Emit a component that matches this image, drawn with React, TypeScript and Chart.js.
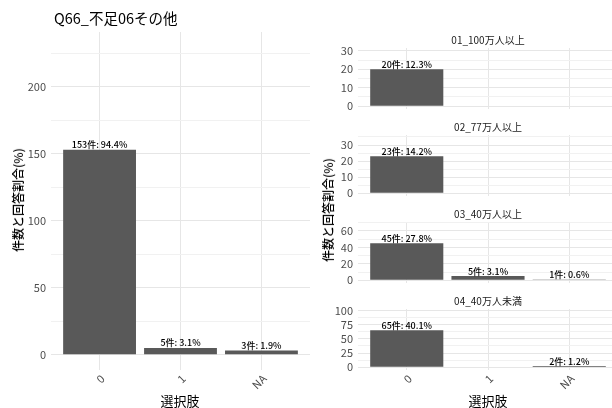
import React, { useEffect, useRef } from "react";
import { Chart, registerables } from "chart.js";

Chart.register(...registerables);

// ---- data ----
const categories = ["0", "1", "NA"];

const totalCounts: (number | null)[] = [153, 5, 3];
const totalPct: (number | null)[] = [94.4, 3.1, 1.9];
const totalTicks = [0, 50, 100, 150, 200];

const groupNames = ["01_100万人以上", "02_77万人以上", "03_40万人以上", "04_40万人未満"];

const group1Counts: (number | null)[] = [20, null, null];
const group1Pct: (number | null)[] = [12.3, null, null];
const group1Ticks = [0, 10, 20, 30];

const group2Counts: (number | null)[] = [23, null, null];
const group2Pct: (number | null)[] = [14.2, null, null];
const group2Ticks = [0, 10, 20, 30];

const group3Counts: (number | null)[] = [45, 5, 1];
const group3Pct: (number | null)[] = [27.8, 3.1, 0.6];
const group3Ticks = [0, 20, 40, 60];

const group4Counts: (number | null)[] = [65, null, 2];
const group4Pct: (number | null)[] = [40.1, null, 1.2];
const group4Ticks = [0, 25, 50, 75, 100];

const chartTitle = "Q66_不足06その他";
const xTitle = "選択肢";
const yTitle = "件数と回答割合(%)";

// ---- styling ----
const FONT = '"Noto Sans CJK JP", "Noto Sans", sans-serif';
const BAR_COLOR = "#595959";
const GRID_MAJOR = "#e6e6e6";
const GRID_MINOR = "#f1f1f1";
const TICK_COLOR = "#4d4d4d";

Chart.defaults.font.family = FONT;

// Count / percent labels sitting on top of each bar
const barLabels = {
  id: "barLabels",
  afterDatasetsDraw(chart: any, _args: any, opts: any) {
    const { ctx } = chart;
    const meta = chart.getDatasetMeta(0);
    ctx.save();
    ctx.font = `500 9px ${FONT}`;
    ctx.fillStyle = "#000";
    ctx.textAlign = "center";
    ctx.textBaseline = "alphabetic";
    meta.data.forEach((bar: any, i: number) => {
      const text = opts.texts[i];
      if (text) ctx.fillText(text, bar.x, bar.y - 1.5);
    });
    ctx.restore();
  },
};

interface PanelSpec {
  counts: (number | null)[];
  pct: (number | null)[];
  ticks: number[];
  left: number;
  top: number;
  width: number;
  height: number;
  padTop: number;
  padRight: number;
  yAxisWidth: number;
  xAxisHeight: number;
  showX: boolean;
}

function buildConfig(p: PanelSpec): any {
  const points: { x: number; y: number }[] = [];
  const texts: string[] = [];
  categories.forEach((_, i) => {
    const c = p.counts[i];
    if (c == null) return;
    points.push({ x: i, y: c });
    texts.push(`${c}件: ${p.pct[i]}%`);
  });

  // y limit is 1.5x the tallest bar, with a 5% expansion on both ends
  const limit = Math.max(...(p.counts.filter((v) => v != null) as number[])) * 1.5;
  const yMin = -0.05 * limit;
  const yMax = limit * 1.05;

  const step = p.ticks[1] - p.ticks[0];
  const majors = new Set(p.ticks);
  const gridValues: number[] = [];
  p.ticks.forEach((t) => {
    gridValues.push(t);
    gridValues.push(t + step / 2);
  });
  const yGrid = gridValues.filter((v) => v >= yMin && v <= yMax);

  return {
    type: "bar",
    data: {
      datasets: [
        {
          data: points,
          backgroundColor: BAR_COLOR,
          borderWidth: 0,
          barPercentage: 0.9,
          categoryPercentage: 1,
        },
      ],
    },
    options: {
      responsive: false,
      maintainAspectRatio: false,
      animation: false,
      events: [],
      layout: { padding: { top: p.padTop, right: p.padRight, bottom: 0, left: 0 } },
      plugins: {
        legend: { display: false },
        tooltip: { enabled: false },
        title: { display: false },
        barLabels: { texts },
      },
      scales: {
        x: {
          type: "linear",
          min: -0.6,
          max: categories.length - 0.4,
          offset: false,
          afterBuildTicks: (s: any) => {
            s.ticks = categories.map((_, i) => ({ value: i }));
          },
          afterFit: (s: any) => {
            s.height = p.xAxisHeight;
          },
          ticks: {
            display: p.showX,
            autoSkip: false,
            minRotation: 45,
            maxRotation: 45,
            padding: 2,
            labelOffset: 3,
            color: TICK_COLOR,
            font: { size: 11 },
            callback: (v: number) => categories[v] ?? "",
          },
          grid: { color: GRID_MAJOR, drawTicks: false, offset: false },
          border: { display: false },
        },
        y: {
          type: "linear",
          min: yMin,
          max: yMax,
          bounds: "data",
          afterBuildTicks: (s: any) => {
            s.ticks = yGrid.map((v) => ({ value: v }));
          },
          afterFit: (s: any) => {
            s.width = p.yAxisWidth;
          },
          ticks: {
            autoSkip: false,
            padding: 5,
            color: TICK_COLOR,
            font: { size: 11 },
            callback: (v: number) => (majors.has(v) ? String(v) : ""),
          },
          grid: {
            color: (ctx: any) => (ctx.tick && majors.has(ctx.tick.value) ? GRID_MAJOR : GRID_MINOR),
            drawTicks: false,
          },
          border: { display: false },
        },
      },
    },
    plugins: [barLabels],
  };
}

function BarPanel({ spec }: { spec: PanelSpec }) {
  const ref = useRef<HTMLCanvasElement>(null);
  useEffect(() => {
    const chart = new Chart(ref.current as HTMLCanvasElement, buildConfig(spec));
    return () => chart.destroy();
  }, []);
  return (
    <canvas
      ref={ref}
      width={spec.width}
      height={spec.height}
      style={{ position: "absolute", left: spec.left, top: spec.top, width: spec.width, height: spec.height }}
    />
  );
}

function Label({
  text,
  x,
  y,
  size,
  rotate = false,
  align = "center",
  color = "#1a1a1a",
  weight = 400,
}: {
  text: string;
  x: number;
  y: number;
  size: number;
  rotate?: boolean;
  align?: "center" | "left";
  color?: string;
  weight?: number;
}) {
  const tx = align === "center" ? "-50%" : "0";
  return (
    <div
      style={{
        position: "absolute",
        left: x,
        top: y,
        transform: `translate(${tx}, -50%)${rotate ? " rotate(-90deg)" : ""}`,
        transformOrigin: align === "center" ? "center" : "left center",
        fontFamily: FONT,
        fontSize: size,
        fontWeight: weight,
        lineHeight: 1,
        color,
        whiteSpace: "nowrap",
      }}
    >
      {text}
    </div>
  );
}

// Facet panels on the right side
const PANEL_TOP = 48;
const PANEL_PITCH = 87;
const PANEL_H = 61;
const PANEL_PAD = 14;
const RIGHT_LEFT = 320;
const RIGHT_W = 306;

const groupData = [
  { counts: group1Counts, pct: group1Pct, ticks: group1Ticks },
  { counts: group2Counts, pct: group2Pct, ticks: group2Ticks },
  { counts: group3Counts, pct: group3Pct, ticks: group3Ticks },
  { counts: group4Counts, pct: group4Pct, ticks: group4Ticks },
];

export default function App() {
  const totalSpec: PanelSpec = {
    counts: totalCounts,
    pct: totalPct,
    ticks: totalTicks,
    left: 0,
    top: 0,
    width: 318,
    height: 408,
    padTop: 32,
    padRight: 8,
    yAxisWidth: 51,
    xAxisHeight: 38,
    showX: true,
  };

  const groupSpecs: PanelSpec[] = groupData.map((g, i) => {
    const plotTop = PANEL_TOP + i * PANEL_PITCH;
    const last = i === groupData.length - 1;
    const top = plotTop - PANEL_PAD;
    const height = last ? 408 - top : PANEL_H + 2 * PANEL_PAD;
    return {
      counts: g.counts,
      pct: g.pct,
      ticks: g.ticks,
      left: RIGHT_LEFT,
      top,
      width: RIGHT_W,
      height,
      padTop: PANEL_PAD,
      padRight: 8,
      yAxisWidth: 38,
      xAxisHeight: last ? height - PANEL_PAD - PANEL_H : PANEL_PAD,
      showX: last,
    };
  });

  return (
    <div
      style={{
        position: "fixed",
        left: 0,
        top: 0,
        width: 612,
        height: 408,
        overflow: "hidden",
        background: "#ffffff",
      }}
    >
      <BarPanel spec={totalSpec} />
      {groupSpecs.map((s, i) => (
        <BarPanel key={i} spec={s} />
      ))}

      <Label text={chartTitle} x={54} y={18} size={14.5} align="left" color="#000" />
      <Label text={yTitle} x={18} y={200} size={12} rotate color="#000" weight={500} />
      <Label text={xTitle} x={180} y={400} size={13} color="#000" />

      {groupNames.map((n, i) => (
        <Label key={n} text={n} x={488} y={PANEL_TOP + i * PANEL_PITCH - 8} size={10} />
      ))}
      <Label text={yTitle} x={328} y={210} size={12} rotate color="#000" weight={500} />
      <Label text={xTitle} x={488} y={400} size={13} color="#000" />
    </div>
  );
}
